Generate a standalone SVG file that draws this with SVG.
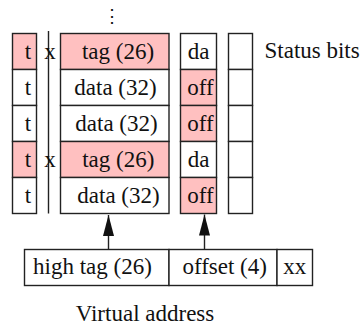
<svg xmlns="http://www.w3.org/2000/svg" width="364" height="326" viewBox="0 0 364 326">
<style>
  .box { fill: #ffffff; stroke: #222222; stroke-width: 1.4; }
  .hl { fill: #ffc0c0; stroke: #222222; stroke-width: 1.4; }
  .line { stroke: #222222; stroke-width: 1.4; fill: none; }
  .t { font-family: 'Liberation Serif', 'Times New Roman', serif; font-size: 23px; fill: #111111; text-anchor: middle; }
  .start { text-anchor: start; }
</style>
<defs>
  <marker id="arrow" markerWidth="21" markerHeight="11" refX="21" refY="5.5" orient="auto" markerUnits="userSpaceOnUse" viewBox="0 0 21 11">
    <path d="M0,0 L21,5.5 L0,11 Z" fill="#111111"/>
  </marker>
</defs>
<rect width="364" height="326" fill="#ffffff"/>
<g id="dots">
  <text x="111.7" y="22" font-family="DejaVu Serif, serif" font-size="18" text-anchor="middle" fill="#111111">⋮</text>
</g>
<g id="tagbits" class="t">
  <rect class="hl" x="12.5" y="33.5" width="24" height="36"/><text x="28" y="59">t</text>
  <rect class="box" x="12.5" y="69.5" width="24" height="36"/><text x="28" y="94.5">t</text>
  <rect class="box" x="12.5" y="105.5" width="24" height="36"/><text x="28" y="130.5">t</text>
  <rect class="hl" x="12.5" y="141.5" width="24" height="36"/><text x="28" y="166.5">t</text>
  <rect class="box" x="12.5" y="177.5" width="24" height="36"/><text x="28" y="202.5">t</text>
</g>
<g id="xmarks" class="t">
  <line class="line" x1="48.5" y1="31" x2="48.5" y2="213.5"/>
  <text x="50" y="59">x</text>
  <text x="50" y="166.5">x</text>
</g>
<g id="cache" class="t">
  <rect class="hl" x="60.5" y="33.5" width="108.5" height="36"/><text x="118" y="59">tag (26)</text>
  <rect class="box" x="60.5" y="69.5" width="108.5" height="36"/><text x="115.5" y="94.5">data (32)</text>
  <rect class="box" x="60.5" y="105.5" width="108.5" height="36"/><text x="116.5" y="130.5">data (32)</text>
  <rect class="hl" x="60.5" y="141.5" width="108.5" height="36"/><text x="118.3" y="166.5">tag (26)</text>
  <rect class="box" x="60.5" y="177.5" width="108.5" height="36"/><text x="118.5" y="202.5">data (32)</text>
</g>
<g id="offsets" class="t">
  <rect class="box" x="180.5" y="33.5" width="36" height="36"/><text x="198.7" y="59">da</text>
  <rect class="hl" x="180.5" y="69.5" width="36" height="36"/><text x="200.5" y="94.5">off</text>
  <rect class="hl" x="180.5" y="105.5" width="36" height="36"/><text x="200.5" y="130.5">off</text>
  <rect class="box" x="180.5" y="141.5" width="36" height="36"/><text x="198.7" y="166.5">da</text>
  <rect class="hl" x="180.5" y="177.5" width="36" height="36"/><text x="200.5" y="202.5">off</text>
</g>
<g id="status" class="t">
  <rect class="box" x="228.5" y="33.5" width="24" height="36"/>
  <rect class="box" x="228.5" y="69.5" width="24" height="36"/>
  <rect class="box" x="228.5" y="105.5" width="24" height="36"/>
  <rect class="box" x="228.5" y="141.5" width="24" height="36"/>
  <rect class="box" x="228.5" y="177.5" width="24" height="36"/>
  <text class="start" x="264.5" y="58">Status bits</text>
</g>
<g id="address" class="t">
  <rect class="box" x="24.5" y="249.5" width="144.5" height="36"/><text x="92.5" y="274">high tag (26)</text>
  <rect class="box" x="169" y="249.5" width="108" height="36"/><text x="224.7" y="274">offset (4)</text>
  <rect class="box" x="277" y="249.5" width="35.5" height="36"/><text x="294.8" y="274">xx</text>
  <text x="145" y="321">Virtual address</text>
</g>
<g id="connectors">
  <line class="line" x1="108.5" y1="249.5" x2="108.5" y2="215" marker-end="url(#arrow)"/>
  <line class="line" x1="204.5" y1="249.5" x2="204.5" y2="214.5" marker-end="url(#arrow)"/>
</g>
</svg>
